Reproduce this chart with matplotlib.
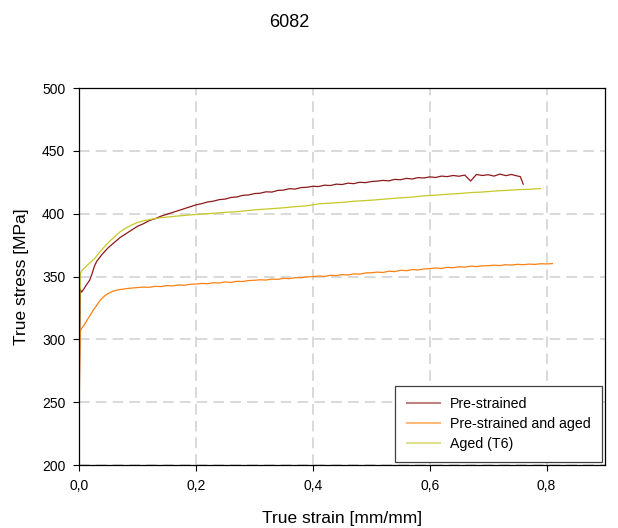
import matplotlib
matplotlib.use('Agg')
import matplotlib.pyplot as plt

plt.rcParams['font.family'] = ['Liberation Sans', 'DejaVu Sans']

# Pre-strained
strain_pre = [0.000, 0.001, 0.002, 0.004, 0.008, 0.012, 0.018, 0.022, 0.026, 0.030,
              0.035, 0.040, 0.050, 0.060, 0.070, 0.080, 0.090, 0.100, 0.110, 0.120,
              0.130, 0.140, 0.150, 0.160, 0.170, 0.180, 0.190, 0.200,
              0.21, 0.22, 0.23, 0.24, 0.25, 0.26, 0.27, 0.28, 0.29, 0.30,
              0.31, 0.32, 0.33, 0.34, 0.35, 0.36, 0.37, 0.38, 0.39, 0.40,
              0.41, 0.42, 0.43, 0.44, 0.45, 0.46, 0.47, 0.48, 0.49, 0.50,
              0.51, 0.52, 0.53, 0.54, 0.55, 0.56, 0.57, 0.58, 0.59, 0.60,
              0.61, 0.62, 0.63, 0.64, 0.65, 0.66, 0.67, 0.68, 0.69, 0.70,
              0.71, 0.72, 0.73, 0.74, 0.75, 0.755, 0.76]
stress_pre = [234, 300, 340, 337.5, 340, 343, 347, 352, 358, 362,
              365, 368, 373, 377, 381, 384, 387, 390, 392, 394.5,
              396, 398, 399.5, 401, 402.5, 404, 405.5, 407,
              408.0, 409.3, 410.0, 411.2, 411.6, 412.9, 413.3, 414.6, 414.9, 416.0,
              416.3, 417.4, 417.2, 418.5, 418.8, 419.9, 419.6, 420.8, 421.0, 421.8,
              421.6, 422.7, 422.4, 423.5, 423.2, 424.3, 423.9, 425.0, 424.7, 425.6,
              425.9, 426.5, 426.1, 427.3, 427.0, 428.1, 427.6, 428.7, 428.4, 429.3,
              428.8, 429.9, 429.5, 430.4, 429.8, 430.7, 426.0, 431.2, 430.4, 431.0,
              429.9, 431.5, 430.3, 431.2, 430.0, 429.5, 423.5]

# Pre-strained and aged
strain_pa = [0.000, 0.001, 0.002, 0.004, 0.008, 0.012, 0.016, 0.020, 0.024, 0.030,
             0.035, 0.040, 0.045, 0.050, 0.058, 0.065, 0.070, 0.080, 0.090, 0.100,
             0.11, 0.12, 0.13, 0.14, 0.15, 0.16, 0.17, 0.18, 0.19, 0.20,
             0.21, 0.22, 0.23, 0.24, 0.25, 0.26, 0.27, 0.28, 0.29, 0.30,
             0.31, 0.32, 0.33, 0.34, 0.35, 0.36, 0.37, 0.38, 0.39, 0.40,
             0.41, 0.42, 0.43, 0.44, 0.45, 0.46, 0.47, 0.48, 0.49, 0.50,
             0.51, 0.52, 0.53, 0.54, 0.55, 0.56, 0.57, 0.58, 0.59, 0.60,
             0.61, 0.62, 0.63, 0.64, 0.65, 0.66, 0.67, 0.68, 0.69, 0.70,
             0.71, 0.72, 0.73, 0.74, 0.75, 0.76, 0.77, 0.78, 0.79, 0.80, 0.81]
stress_pa = [233, 280, 306, 308.5, 311, 314, 317, 320, 323, 327,
             330.5, 333, 335, 336.5, 338.3, 339.2, 339.6, 340.3, 340.8, 341.2,
             341.6, 341.4, 342.2, 342.0, 342.8, 342.5, 343.3, 343.0, 343.8, 344.0,
             344.5, 344.2, 345.1, 344.8, 345.7, 345.3, 346.2, 346.0, 346.8, 347.0,
             347.4, 347.2, 348.0, 347.7, 348.6, 348.3, 349.1, 349.0, 349.7, 349.9,
             350.4, 350.1, 351.0, 350.7, 351.6, 351.2, 352.1, 351.9, 352.8, 353.0,
             353.5, 353.2, 354.2, 353.9, 355.0, 354.6, 355.5, 355.2, 356.0, 356.3,
             356.8, 356.4, 357.3, 357.0, 357.7, 357.5, 358.2, 357.9, 358.5, 358.6,
             359.0, 358.7, 359.4, 359.1, 359.7, 359.4, 359.9, 359.6, 360.2, 360.0, 360.3]

# Aged (T6)
strain_t6 = [0.000, 0.001, 0.002, 0.005, 0.010, 0.015, 0.020, 0.026, 0.032, 0.040,
             0.050, 0.060, 0.070, 0.080, 0.090, 0.100, 0.110, 0.120, 0.130, 0.140,
             0.150, 0.17, 0.19, 0.21, 0.23, 0.25, 0.27, 0.29, 0.31, 0.33,
             0.35, 0.37, 0.39, 0.41, 0.43, 0.45, 0.47, 0.49, 0.51, 0.53,
             0.55, 0.57, 0.59, 0.61, 0.63, 0.65, 0.67, 0.69, 0.71, 0.73,
             0.75, 0.77, 0.79]
stress_t6 = [260, 320, 352, 355, 357, 359.5, 361.5, 364, 367.5, 372,
             377, 381.5, 385.5, 388.5, 391, 393, 394.3, 395.3, 396, 396.8,
             397.3, 398.2, 399.0, 399.7, 400.3, 401.1, 401.6, 402.6, 403.4, 404.0,
             404.7, 405.6, 406.3, 407.8, 408.4, 409.0, 409.9, 410.4, 411.1, 411.9,
             412.6, 413.2, 414.2, 414.7, 415.5, 416.0, 416.8, 417.2, 418.0, 418.5,
             419.1, 419.4, 420.0]

labels = ['Pre-strained', 'Pre-strained and aged', 'Aged (T6)']
colors = ['#8b1a1a', '#ff8010', '#c8c828']

xticks = [0.0, 0.2, 0.4, 0.6, 0.8]
xtick_labels = ['0,0', '0,2', '0,4', '0,6', '0,8']
yticks = [200, 250, 300, 350, 400, 450, 500]

fig = plt.figure(figsize=(6.18, 5.28), dpi=100)
ax = fig.add_axes([0.128, 0.1193, 0.851, 0.714])

ax.plot(strain_pre, stress_pre, color=colors[0], lw=0.9, label=labels[0])
ax.plot(strain_pa, stress_pa, color=colors[1], lw=0.9, label=labels[1])
ax.plot(strain_t6, stress_t6, color=colors[2], lw=0.9, label=labels[2])

ax.set_xlim(0, 0.9)
ax.set_ylim(200, 500)
ax.set_xticks(xticks)
ax.set_xticklabels(xtick_labels)
ax.set_yticks(yticks)
ax.tick_params(direction='out', length=4, width=0.8, labelsize=10, pad=6)
ax.grid(True, color='#d0d0d0', ls=(0, (7, 4)), lw=1.1)
for s in ax.spines.values():
    s.set_linewidth(0.9)

ax.set_xlabel('True strain [mm/mm]', fontsize=12.5, labelpad=13)
ax.set_ylabel('True stress [MPa]', fontsize=12.5, labelpad=9)
fig.text(0.468, 0.957, '6082', fontsize=13, ha='center', va='center')

leg = ax.legend(loc='lower right', bbox_to_anchor=(0.994, 0.008), fontsize=10.2,
                fancybox=False, framealpha=1, edgecolor='#404040',
                handlelength=2.35, handletextpad=0.7, borderpad=0.8,
                labelspacing=0.4, borderaxespad=0)
leg.get_frame().set_linewidth(0.9)
for h in leg.get_lines():
    h.set_alpha(0.55)
    h.set_linewidth(1.5)

plt.savefig('out.png')
